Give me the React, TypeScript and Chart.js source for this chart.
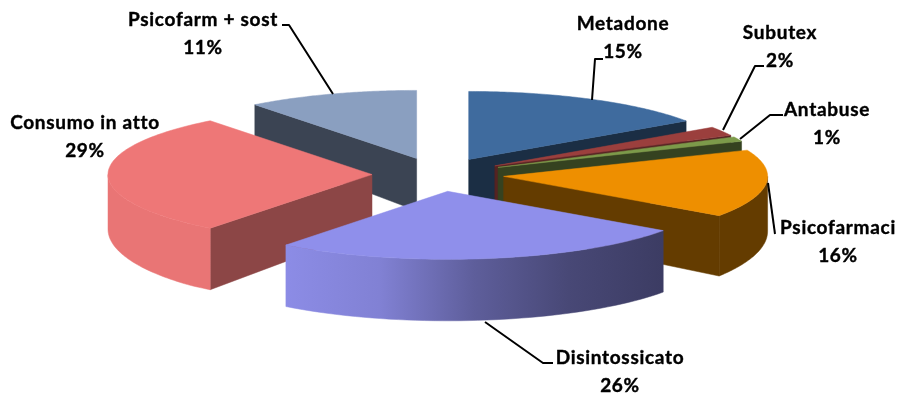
import React, { useEffect, useRef } from "react";
import { Chart, registerables } from "chart.js";

Chart.register(...registerables);

// Data
const categories = ["Metadone", "Subutex", "Antabuse", "Psicofarmaci", "Disintossicato", "Consumo in atto", "Psicofarm + sost"];
const values = [15.4, 2.2, 1.1, 16.1, 25.7, 29.0, 10.5];
const colours = ["#3F6B9E", "#9B3F3D", "#7C9A4A", "#EE8F00", "#8F8FEB", "#EE7777", "#8A9FC0"];
const cutShade = [0.43, 0.55, 0.43, 0.42, 0.43, 0.59, 0.43];

// Layout of the tilted pie
const CX = 438, CY = 174.5, RX = 264, RY = 68, EXPLODE = 0.25;
const labelCentres = [[623, 24], [780, 33], [827, 110], [838, 228], [620, 358], [85, 123], [203, 20]];
const LINE_GAP = 27.5;
const leaders = [
  [[592, 100], [595, 59], [603, 59]],
  [[723, 130], [755, 66], [764, 66]],
  [[740, 139], [770, 115], [783, 115]],
  [[768, 183], [775, 234]],
  [[485, 322], [543, 363], [553, 363]],
  [[333, 94], [289, 25], [282, 25]],
];

function shade(hex: string, f: number) {
  const n = parseInt(hex.slice(1), 16);
  return `rgb(${Math.round(((n >> 16) & 255) * f)},${Math.round(((n >> 8) & 255) * f)},${Math.round((n & 255) * f)})`;
}

const depthAt = (sy: number) => Math.min(61.5, 47 + (sy - 120) * 0.14);

const pie3d = {
  id: "pie3d",
  beforeDatasetsDraw(chart: any) {
    const ctx: CanvasRenderingContext2D = chart.ctx;
    const arcs: any[] = chart.getDatasetMeta(0).data;
    const slices = arcs.map((arc, i) => {
      const mid = (arc.startAngle + arc.endAngle) / 2;
      const ox = EXPLODE * Math.cos(mid);
      const oy = EXPLODE * Math.sin(mid);
      const project = (t: number, r = 1): [number, number] => [
        CX + RX * (r * Math.cos(t) + ox),
        CY + RY * (r * Math.sin(t) + oy),
      ];
      return { arc, i, mid, project };
    });
    slices.sort((a, b) => Math.sin(a.mid) - Math.sin(b.mid));

    const face = (pts: [number, number][], fill: any) => {
      ctx.beginPath();
      pts.forEach((p, k) => (k ? ctx.lineTo(p[0], p[1]) : ctx.moveTo(p[0], p[1])));
      ctx.closePath();
      ctx.fillStyle = fill;
      ctx.fill();
      ctx.strokeStyle = fill;
      ctx.lineWidth = 0.5;
      ctx.stroke();
    };
    const lower = (p: [number, number]): [number, number] => [p[0], p[1] + depthAt(p[1])];

    for (const { arc, i, project } of slices) {
      const col: string = arc.options.backgroundColor;
      const cut = shade(col, cutShade[i]);
      const apex = project(0, 0);
      const { startAngle: a0, endAngle: a1 } = arc;
      if (Math.cos(a0) < 0) {
        const p = project(a0);
        face([apex, p, lower(p), lower(apex)], cut);
      }
      if (Math.cos(a1) > 0) {
        const p = project(a1);
        face([apex, p, lower(p), lower(apex)], cut);
      }
      // outer wall: the visible part lies where sin(angle) > 0
      const w0 = Math.max(a0, 0);
      const w1 = Math.min(a1, Math.PI);
      if (w1 > w0) {
        const rim: [number, number][] = [];
        const steps = 48;
        for (let k = 0; k <= steps; k++) rim.push(project(w0 + ((w1 - w0) * k) / steps));
        const g = ctx.createLinearGradient(285, 0, 663, 0);
        g.addColorStop(0, shade(col, 0.98));
        g.addColorStop(0.25, shade(col, 0.9));
        g.addColorStop(0.5, shade(col, 0.66));
        g.addColorStop(0.75, shade(col, 0.5));
        g.addColorStop(1, shade(col, 0.42));
        face([...rim, ...rim.slice().reverse().map(lower)], g);
      }
      const topPts: [number, number][] = [apex];
      const n = 72;
      for (let k = 0; k <= n; k++) topPts.push(project(a0 + ((a1 - a0) * k) / n));
      face(topPts, col);
    }

    // Leader lines
    ctx.strokeStyle = "#000";
    ctx.lineWidth = 2;
    ctx.lineJoin = "round";
    for (const line of leaders) {
      ctx.beginPath();
      line.forEach((p, k) => (k ? ctx.lineTo(p[0], p[1]) : ctx.moveTo(p[0], p[1])));
      ctx.stroke();
    }

    // Labels
    ctx.fillStyle = "#000";
    ctx.strokeStyle = "#000";
    ctx.lineWidth = 0.4;
    ctx.font = "bold 19px Lato";
    (ctx as any).letterSpacing = "0.7px";
    ctx.textAlign = "center";
    ctx.textBaseline = "middle";
    categories.forEach((name, i) => {
      const [x, y] = labelCentres[i];
      const pct = `${Math.round(values[i])}%`;
      ctx.fillText(name, x, y);
      ctx.strokeText(name, x, y);
      ctx.fillText(pct, x, y + LINE_GAP);
      ctx.strokeText(pct, x, y + LINE_GAP);
    });
    return false;
  },
};

export default function App() {
  const ref = useRef<HTMLCanvasElement>(null);
  useEffect(() => {
    document.body.style.margin = "0";
    const chart = new Chart(ref.current!, {
      type: "pie",
      data: {
        labels: categories,
        datasets: [{ data: values, backgroundColor: colours, borderWidth: 0 }],
      },
      options: {
        animation: false,
        responsive: false,
        devicePixelRatio: 1,
        plugins: { legend: { display: false }, tooltip: { enabled: false } },
      },
      plugins: [pie3d],
    } as any);
    return () => chart.destroy();
  }, []);
  return <canvas ref={ref} width={900} height={401} style={{ display: "block" }} />;
}
